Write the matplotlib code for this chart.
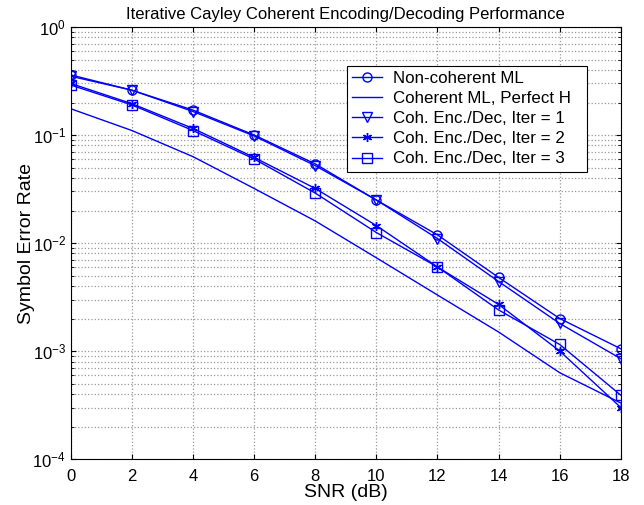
import matplotlib
matplotlib.use("Agg")
import matplotlib.pyplot as plt
import numpy as np

plt.rcParams['font.family'] = ['Liberation Sans', 'DejaVu Sans']

snr = [0, 2, 4, 6, 8, 10, 12, 14, 16, 18]
noncoh_ml = [0.36, 0.26, 0.17, 0.10, 0.054, 0.025, 0.0119, 0.0048, 0.0020, 0.00105]
coh_ml = [0.175, 0.11, 0.063, 0.032, 0.016, 0.0073, 0.0033, 0.0015, 0.00063, 0.00033]
iter1 = [0.35, 0.26, 0.165, 0.098, 0.052, 0.025, 0.011, 0.0044, 0.0018, 0.00085]
iter2 = [0.30, 0.195, 0.115, 0.062, 0.032, 0.0145, 0.006, 0.0027, 0.00100, 0.00030]
iter3 = [0.29, 0.19, 0.11, 0.060, 0.029, 0.0125, 0.006, 0.0024, 0.00115, 0.00039]

fig = plt.figure(figsize=(6.44, 5.05), dpi=100)
ax = fig.add_axes([0.110, 0.091, 0.854, 0.8555])
c = 'blue'
kw = dict(color=c, lw=1.0, markersize=6.5, markerfacecolor='none', markeredgecolor=c, markeredgewidth=1.0)
ax.semilogy(snr, noncoh_ml, marker='o', label='Non-coherent ML', **kw)
ax.semilogy(snr, coh_ml, color=c, lw=1.0, label='Coherent ML, Perfect H')
ax.semilogy(snr, iter1, marker='v', label='Coh. Enc./Dec, Iter = 1', **kw)
ax.semilogy(snr, iter2, marker=(6, 2, 0), label='Coh. Enc./Dec, Iter = 2', **kw)
ax.semilogy(snr, iter3, marker='s', label='Coh. Enc./Dec, Iter = 3', **kw)

ax.set_xlim(0, 18)
ax.set_ylim(1e-4, 1)
ax.set_xticks(range(0, 19, 2))
ax.grid(True, which='major', linestyle=':', color='#999999', lw=0.9)
ax.grid(True, which='minor', axis='y', linestyle=':', color='#999999', lw=0.9)
ax.tick_params(which='both', direction='in', labelsize=12, top=True, right=True)
ax.tick_params(axis='x', pad=7)
ax.set_xlabel('SNR (dB)', fontsize=14, labelpad=0)
ax.set_ylabel('Symbol Error Rate', fontsize=14, labelpad=-2)
ax.set_title('Iterative Cayley Coherent Encoding/Decoding Performance', fontsize=12, pad=6)
leg = ax.legend(loc='upper left', bbox_to_anchor=(0.5018, 0.9097, 0.4364, 0), mode='expand',
                fontsize=12.2, fancybox=False, edgecolor='black', framealpha=1,
                handlelength=1.75, borderpad=0.3, labelspacing=0.3, handletextpad=0.65,
                borderaxespad=0)
leg.get_frame().set_linewidth(0.8)
for s in ax.spines.values():
    s.set_linewidth(0.8)

fig.savefig('out.png', dpi=100)
